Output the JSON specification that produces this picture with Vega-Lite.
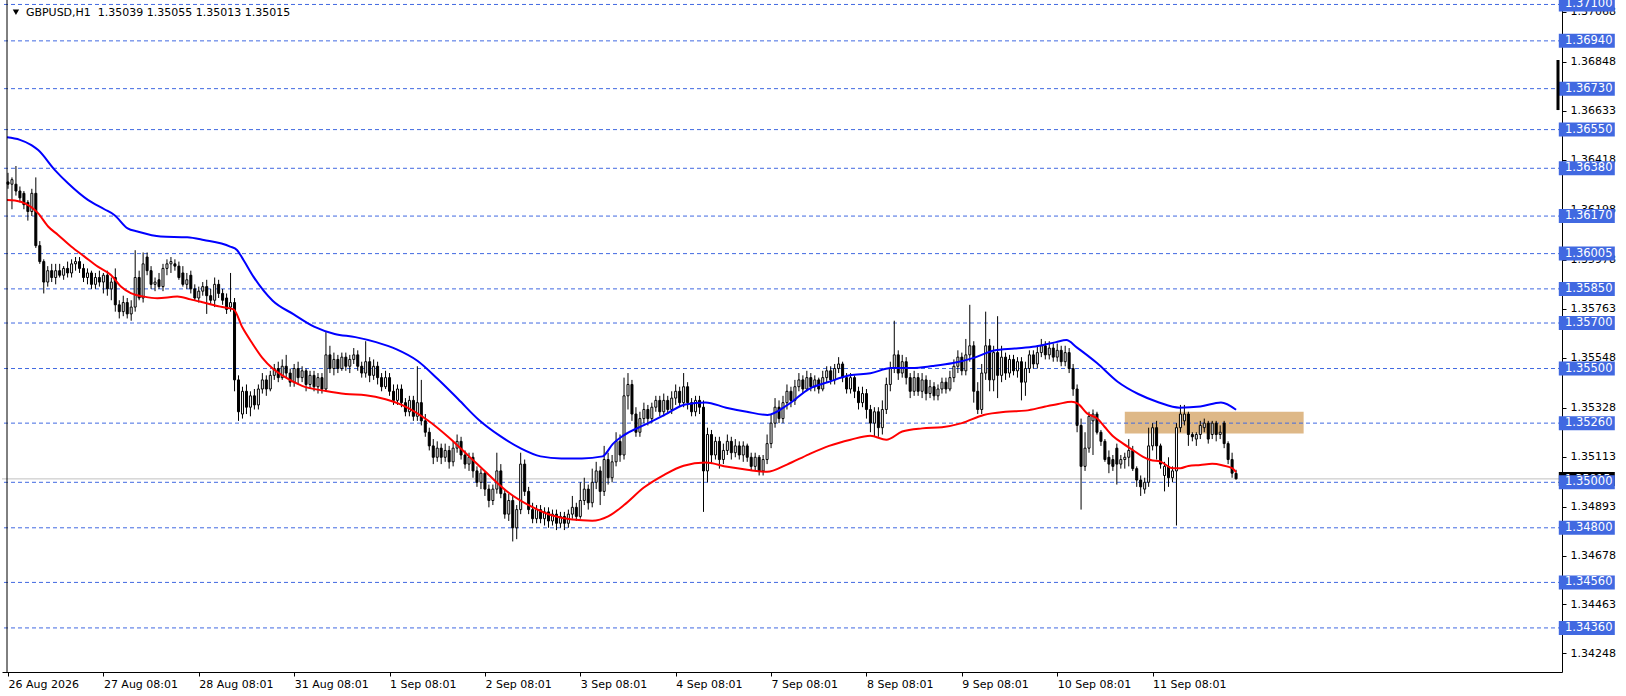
{
"$schema":"https://vega.github.io/schema/vega-lite/v6.json",
"width":1560,"height":672,
"autosize":{"type":"none"},
"padding":{"left":2,"top":0,"right":64,"bottom":24},
"background":"white",
"config":{"view":{"stroke":null},"font":"DejaVu Sans"},
"resolve":{"axis":{"x":"independent","y":"independent"}},
"datasets":{
"candles":[
{"i":0,"o":1.3632,"h":1.3636,"l":1.3629,"c":1.3631},
{"i":1,"o":1.3631,"h":1.3634,"l":1.3620,"c":1.3633},
{"i":2,"o":1.3631,"h":1.3639,"l":1.3626,"c":1.3628},
{"i":3,"o":1.3628,"h":1.3630,"l":1.3623,"c":1.3625},
{"i":4,"o":1.3627,"h":1.3628,"l":1.3620,"c":1.3622},
{"i":5,"o":1.3623,"h":1.3624,"l":1.3615,"c":1.3619},
{"i":6,"o":1.3619,"h":1.3629,"l":1.3617,"c":1.3627},
{"i":7,"o":1.3627,"h":1.3634,"l":1.3603,"c":1.3604},
{"i":8,"o":1.3604,"h":1.3606,"l":1.3596,"c":1.3597},
{"i":9,"o":1.3597,"h":1.3598,"l":1.3583,"c":1.3588},
{"i":10,"o":1.3588,"h":1.3595,"l":1.3586,"c":1.3593},
{"i":11,"o":1.3593,"h":1.3596,"l":1.3588,"c":1.3590},
{"i":12,"o":1.3590,"h":1.3596,"l":1.3587,"c":1.3593},
{"i":13,"o":1.3593,"h":1.3596,"l":1.3590,"c":1.3591},
{"i":14,"o":1.3591,"h":1.3595,"l":1.3589,"c":1.3594},
{"i":15,"o":1.3594,"h":1.3597,"l":1.3590,"c":1.3592},
{"i":16,"o":1.3592,"h":1.3598,"l":1.3590,"c":1.3596},
{"i":17,"o":1.3596,"h":1.3599,"l":1.3593,"c":1.3597},
{"i":18,"o":1.3597,"h":1.3599,"l":1.3592,"c":1.3594},
{"i":19,"o":1.3594,"h":1.3596,"l":1.3588,"c":1.3590},
{"i":20,"o":1.3590,"h":1.3594,"l":1.3587,"c":1.3592},
{"i":21,"o":1.3592,"h":1.3593,"l":1.3585,"c":1.3587},
{"i":22,"o":1.3587,"h":1.3592,"l":1.3585,"c":1.3590},
{"i":23,"o":1.3590,"h":1.3593,"l":1.3586,"c":1.3588},
{"i":24,"o":1.3588,"h":1.3592,"l":1.3583,"c":1.3591},
{"i":25,"o":1.3591,"h":1.3593,"l":1.3582,"c":1.3585},
{"i":26,"o":1.3585,"h":1.3590,"l":1.3580,"c":1.3588},
{"i":27,"o":1.3590,"h":1.3594,"l":1.3575,"c":1.3578},
{"i":28,"o":1.3578,"h":1.3580,"l":1.3572,"c":1.3575},
{"i":29,"o":1.3575,"h":1.3582,"l":1.3573,"c":1.3579},
{"i":30,"o":1.3579,"h":1.3581,"l":1.3572,"c":1.3574},
{"i":31,"o":1.3574,"h":1.3580,"l":1.3571,"c":1.3577},
{"i":32,"o":1.3577,"h":1.3602,"l":1.3575,"c":1.3590},
{"i":33,"o":1.3590,"h":1.3593,"l":1.3580,"c":1.3581},
{"i":34,"o":1.3581,"h":1.3601,"l":1.3579,"c":1.3596},
{"i":35,"o":1.3599,"h":1.3601,"l":1.3591,"c":1.3593},
{"i":36,"o":1.3593,"h":1.3595,"l":1.3585,"c":1.3587},
{"i":37,"o":1.3587,"h":1.3590,"l":1.3584,"c":1.3588},
{"i":38,"o":1.3589,"h":1.3592,"l":1.3585,"c":1.3586},
{"i":39,"o":1.3586,"h":1.3596,"l":1.3584,"c":1.3594},
{"i":40,"o":1.3594,"h":1.3598,"l":1.3591,"c":1.3596},
{"i":41,"o":1.3596,"h":1.3599,"l":1.3592,"c":1.3597},
{"i":42,"o":1.3596,"h":1.3598,"l":1.3593,"c":1.3595},
{"i":43,"o":1.3595,"h":1.3597,"l":1.3589,"c":1.3590},
{"i":44,"o":1.3592,"h":1.3595,"l":1.3586,"c":1.3587},
{"i":45,"o":1.3587,"h":1.3592,"l":1.3585,"c":1.3589},
{"i":46,"o":1.3591,"h":1.3593,"l":1.3583,"c":1.3585},
{"i":47,"o":1.3585,"h":1.3587,"l":1.3580,"c":1.3581},
{"i":48,"o":1.3581,"h":1.3586,"l":1.3579,"c":1.3584},
{"i":49,"o":1.3584,"h":1.3588,"l":1.3582,"c":1.3586},
{"i":50,"o":1.3586,"h":1.3589,"l":1.3574,"c":1.3582},
{"i":51,"o":1.3582,"h":1.3585,"l":1.3578,"c":1.3580},
{"i":52,"o":1.3580,"h":1.3590,"l":1.3577,"c":1.3587},
{"i":53,"o":1.3587,"h":1.3589,"l":1.3581,"c":1.3583},
{"i":54,"o":1.3583,"h":1.3585,"l":1.3578,"c":1.3580},
{"i":55,"o":1.3581,"h":1.3583,"l":1.3574,"c":1.3576},
{"i":56,"o":1.3577,"h":1.3592,"l":1.3575,"c":1.3579},
{"i":57,"o":1.3579,"h":1.3581,"l":1.3540,"c":1.3545},
{"i":58,"o":1.3545,"h":1.3547,"l":1.3527,"c":1.3531},
{"i":59,"o":1.3530,"h":1.3542,"l":1.3528,"c":1.3540},
{"i":60,"o":1.3540,"h":1.3543,"l":1.3530,"c":1.3533},
{"i":61,"o":1.3533,"h":1.3540,"l":1.3529,"c":1.3538},
{"i":62,"o":1.3538,"h":1.3541,"l":1.3532,"c":1.3534},
{"i":63,"o":1.3534,"h":1.3543,"l":1.3532,"c":1.3541},
{"i":64,"o":1.3541,"h":1.3548,"l":1.3539,"c":1.3545},
{"i":65,"o":1.3545,"h":1.3547,"l":1.3538,"c":1.3541},
{"i":66,"o":1.3541,"h":1.3549,"l":1.3540,"c":1.3547},
{"i":67,"o":1.3547,"h":1.3552,"l":1.3545,"c":1.3550},
{"i":68,"o":1.3550,"h":1.3553,"l":1.3544,"c":1.3546},
{"i":69,"o":1.3546,"h":1.3554,"l":1.3545,"c":1.3551},
{"i":70,"o":1.3551,"h":1.3556,"l":1.3546,"c":1.3548},
{"i":71,"o":1.3548,"h":1.3550,"l":1.3542,"c":1.3544},
{"i":72,"o":1.3544,"h":1.3552,"l":1.3542,"c":1.3550},
{"i":73,"o":1.3550,"h":1.3553,"l":1.3543,"c":1.3546},
{"i":74,"o":1.3546,"h":1.3551,"l":1.3544,"c":1.3549},
{"i":75,"o":1.3549,"h":1.3550,"l":1.3540,"c":1.3543},
{"i":76,"o":1.3543,"h":1.3549,"l":1.3541,"c":1.3547},
{"i":77,"o":1.3547,"h":1.3549,"l":1.3540,"c":1.3542},
{"i":78,"o":1.3542,"h":1.3548,"l":1.3539,"c":1.3546},
{"i":79,"o":1.3546,"h":1.3548,"l":1.3539,"c":1.3541},
{"i":80,"o":1.3541,"h":1.3566,"l":1.3540,"c":1.3556},
{"i":81,"o":1.3556,"h":1.3560,"l":1.3548,"c":1.3550},
{"i":82,"o":1.3550,"h":1.3557,"l":1.3547,"c":1.3554},
{"i":83,"o":1.3554,"h":1.3556,"l":1.3548,"c":1.3550},
{"i":84,"o":1.3550,"h":1.3557,"l":1.3549,"c":1.3555},
{"i":85,"o":1.3555,"h":1.3557,"l":1.3549,"c":1.3551},
{"i":86,"o":1.3551,"h":1.3556,"l":1.3548,"c":1.3554},
{"i":87,"o":1.3554,"h":1.3559,"l":1.3552,"c":1.3556},
{"i":88,"o":1.3556,"h":1.3558,"l":1.3549,"c":1.3551},
{"i":89,"o":1.3551,"h":1.3553,"l":1.3546,"c":1.3548},
{"i":90,"o":1.3548,"h":1.3562,"l":1.3546,"c":1.3553},
{"i":91,"o":1.3553,"h":1.3555,"l":1.3544,"c":1.3547},
{"i":92,"o":1.3547,"h":1.3554,"l":1.3545,"c":1.3551},
{"i":93,"o":1.3551,"h":1.3553,"l":1.3543,"c":1.3546},
{"i":94,"o":1.3546,"h":1.3548,"l":1.3540,"c":1.3542},
{"i":95,"o":1.3542,"h":1.3549,"l":1.3541,"c":1.3546},
{"i":96,"o":1.3546,"h":1.3548,"l":1.3538,"c":1.3540},
{"i":97,"o":1.3540,"h":1.3543,"l":1.3534,"c":1.3536},
{"i":98,"o":1.3536,"h":1.3543,"l":1.3534,"c":1.3541},
{"i":99,"o":1.3541,"h":1.3543,"l":1.3533,"c":1.3535},
{"i":100,"o":1.3535,"h":1.3537,"l":1.3529,"c":1.3531},
{"i":101,"o":1.3531,"h":1.3538,"l":1.3529,"c":1.3536},
{"i":102,"o":1.3536,"h":1.3538,"l":1.3527,"c":1.3529},
{"i":103,"o":1.3529,"h":1.3551,"l":1.3527,"c":1.3535},
{"i":104,"o":1.3535,"h":1.3545,"l":1.3525,"c":1.3527},
{"i":105,"o":1.3527,"h":1.3530,"l":1.3520,"c":1.3522},
{"i":106,"o":1.3522,"h":1.3524,"l":1.3514,"c":1.3516},
{"i":107,"o":1.3516,"h":1.3519,"l":1.3508,"c":1.3511},
{"i":108,"o":1.3511,"h":1.3518,"l":1.3509,"c":1.3515},
{"i":109,"o":1.3515,"h":1.3517,"l":1.3508,"c":1.3511},
{"i":110,"o":1.3511,"h":1.3517,"l":1.3509,"c":1.3514},
{"i":111,"o":1.3514,"h":1.3516,"l":1.3506,"c":1.3509},
{"i":112,"o":1.3509,"h":1.3518,"l":1.3507,"c":1.3515},
{"i":113,"o":1.3515,"h":1.3521,"l":1.3513,"c":1.3518},
{"i":114,"o":1.3518,"h":1.3520,"l":1.3510,"c":1.3512},
{"i":115,"o":1.3512,"h":1.3514,"l":1.3506,"c":1.3508},
{"i":116,"o":1.3508,"h":1.3513,"l":1.3505,"c":1.3511},
{"i":117,"o":1.3511,"h":1.3513,"l":1.3502,"c":1.3505},
{"i":118,"o":1.3505,"h":1.3507,"l":1.3498,"c":1.3500},
{"i":119,"o":1.3500,"h":1.3506,"l":1.3497,"c":1.3504},
{"i":120,"o":1.3504,"h":1.3505,"l":1.3494,"c":1.3497},
{"i":121,"o":1.3497,"h":1.3499,"l":1.3489,"c":1.3492},
{"i":122,"o":1.3492,"h":1.3499,"l":1.3490,"c":1.3497},
{"i":123,"o":1.3497,"h":1.3513,"l":1.3495,"c":1.3505},
{"i":124,"o":1.3505,"h":1.3508,"l":1.3493,"c":1.3495},
{"i":125,"o":1.3495,"h":1.3497,"l":1.3484,"c":1.3486},
{"i":126,"o":1.3486,"h":1.3495,"l":1.3483,"c":1.3492},
{"i":127,"o":1.3492,"h":1.3494,"l":1.3474,"c":1.3480},
{"i":128,"o":1.3480,"h":1.3490,"l":1.3475,"c":1.3488},
{"i":129,"o":1.3488,"h":1.3513,"l":1.3486,"c":1.3508},
{"i":130,"o":1.3508,"h":1.3510,"l":1.3494,"c":1.3496},
{"i":131,"o":1.3496,"h":1.3498,"l":1.3486,"c":1.3488},
{"i":132,"o":1.3488,"h":1.3491,"l":1.3482,"c":1.3484},
{"i":133,"o":1.3484,"h":1.3490,"l":1.3482,"c":1.3488},
{"i":134,"o":1.3488,"h":1.3490,"l":1.3482,"c":1.3484},
{"i":135,"o":1.3484,"h":1.3489,"l":1.3481,"c":1.3487},
{"i":136,"o":1.3487,"h":1.3489,"l":1.3480,"c":1.3483},
{"i":137,"o":1.3483,"h":1.3488,"l":1.3481,"c":1.3486},
{"i":138,"o":1.3486,"h":1.3488,"l":1.3479,"c":1.3482},
{"i":139,"o":1.3482,"h":1.3487,"l":1.3480,"c":1.3485},
{"i":140,"o":1.3485,"h":1.3487,"l":1.3479,"c":1.3482},
{"i":141,"o":1.3482,"h":1.3488,"l":1.3480,"c":1.3486},
{"i":142,"o":1.3486,"h":1.3494,"l":1.3484,"c":1.3489},
{"i":143,"o":1.3489,"h":1.3491,"l":1.3483,"c":1.3485},
{"i":144,"o":1.3485,"h":1.3500,"l":1.3484,"c":1.3492},
{"i":145,"o":1.3492,"h":1.3502,"l":1.3490,"c":1.3497},
{"i":146,"o":1.3497,"h":1.3499,"l":1.3488,"c":1.3491},
{"i":147,"o":1.3491,"h":1.3506,"l":1.3489,"c":1.3500},
{"i":148,"o":1.3500,"h":1.3509,"l":1.3497,"c":1.3505},
{"i":149,"o":1.3505,"h":1.3507,"l":1.3490,"c":1.3496},
{"i":150,"o":1.3496,"h":1.3516,"l":1.3494,"c":1.3510},
{"i":151,"o":1.3510,"h":1.3513,"l":1.3499,"c":1.3502},
{"i":152,"o":1.3502,"h":1.3512,"l":1.3500,"c":1.3509},
{"i":153,"o":1.3509,"h":1.3522,"l":1.3507,"c":1.3518},
{"i":154,"o":1.3518,"h":1.3521,"l":1.3509,"c":1.3512},
{"i":155,"o":1.3512,"h":1.3546,"l":1.3510,"c":1.3538},
{"i":156,"o":1.3538,"h":1.3548,"l":1.3532,"c":1.3543},
{"i":157,"o":1.3543,"h":1.3545,"l":1.3527,"c":1.3530},
{"i":158,"o":1.3530,"h":1.3533,"l":1.3520,"c":1.3522},
{"i":159,"o":1.3522,"h":1.3531,"l":1.3520,"c":1.3528},
{"i":160,"o":1.3528,"h":1.3535,"l":1.3526,"c":1.3532},
{"i":161,"o":1.3532,"h":1.3534,"l":1.3525,"c":1.3528},
{"i":162,"o":1.3528,"h":1.3535,"l":1.3526,"c":1.3533},
{"i":163,"o":1.3533,"h":1.3538,"l":1.3531,"c":1.3536},
{"i":164,"o":1.3536,"h":1.3538,"l":1.3529,"c":1.3531},
{"i":165,"o":1.3531,"h":1.3539,"l":1.3529,"c":1.3536},
{"i":166,"o":1.3536,"h":1.3538,"l":1.3530,"c":1.3532},
{"i":167,"o":1.3532,"h":1.3540,"l":1.3530,"c":1.3537},
{"i":168,"o":1.3537,"h":1.3543,"l":1.3534,"c":1.3540},
{"i":169,"o":1.3540,"h":1.3542,"l":1.3533,"c":1.3535},
{"i":170,"o":1.3535,"h":1.3548,"l":1.3533,"c":1.3542},
{"i":171,"o":1.3542,"h":1.3544,"l":1.3532,"c":1.3535},
{"i":172,"o":1.3535,"h":1.3537,"l":1.3529,"c":1.3531},
{"i":173,"o":1.3531,"h":1.3538,"l":1.3529,"c":1.3536},
{"i":174,"o":1.3536,"h":1.3538,"l":1.3530,"c":1.3533},
{"i":175,"o":1.3533,"h":1.3536,"l":1.3487,"c":1.3505},
{"i":176,"o":1.3505,"h":1.3524,"l":1.3500,"c":1.3521},
{"i":177,"o":1.3521,"h":1.3523,"l":1.3508,"c":1.3512},
{"i":178,"o":1.3512,"h":1.3520,"l":1.3510,"c":1.3518},
{"i":179,"o":1.3518,"h":1.3520,"l":1.3506,"c":1.3510},
{"i":180,"o":1.3510,"h":1.3517,"l":1.3508,"c":1.3514},
{"i":181,"o":1.3514,"h":1.3521,"l":1.3512,"c":1.3518},
{"i":182,"o":1.3518,"h":1.3520,"l":1.3510,"c":1.3513},
{"i":183,"o":1.3513,"h":1.3519,"l":1.3511,"c":1.3516},
{"i":184,"o":1.3516,"h":1.3518,"l":1.3510,"c":1.3512},
{"i":185,"o":1.3512,"h":1.3518,"l":1.3509,"c":1.3516},
{"i":186,"o":1.3516,"h":1.3517,"l":1.3509,"c":1.3511},
{"i":187,"o":1.3511,"h":1.3513,"l":1.3505,"c":1.3507},
{"i":188,"o":1.3507,"h":1.3513,"l":1.3505,"c":1.3511},
{"i":189,"o":1.3511,"h":1.3512,"l":1.3503,"c":1.3505},
{"i":190,"o":1.3505,"h":1.3512,"l":1.3503,"c":1.3510},
{"i":191,"o":1.3510,"h":1.3521,"l":1.3508,"c":1.3517},
{"i":192,"o":1.3517,"h":1.3530,"l":1.3515,"c":1.3526},
{"i":193,"o":1.3526,"h":1.3537,"l":1.3524,"c":1.3533},
{"i":194,"o":1.3533,"h":1.3536,"l":1.3526,"c":1.3528},
{"i":195,"o":1.3528,"h":1.3538,"l":1.3526,"c":1.3535},
{"i":196,"o":1.3535,"h":1.3543,"l":1.3532,"c":1.3540},
{"i":197,"o":1.3540,"h":1.3542,"l":1.3533,"c":1.3536},
{"i":198,"o":1.3536,"h":1.3545,"l":1.3534,"c":1.3542},
{"i":199,"o":1.3542,"h":1.3548,"l":1.3540,"c":1.3545},
{"i":200,"o":1.3545,"h":1.3547,"l":1.3539,"c":1.3541},
{"i":201,"o":1.3541,"h":1.3549,"l":1.3540,"c":1.3546},
{"i":202,"o":1.3546,"h":1.3548,"l":1.3540,"c":1.3542},
{"i":203,"o":1.3542,"h":1.3547,"l":1.3540,"c":1.3545},
{"i":204,"o":1.3545,"h":1.3546,"l":1.3539,"c":1.3541},
{"i":205,"o":1.3541,"h":1.3549,"l":1.3540,"c":1.3546},
{"i":206,"o":1.3546,"h":1.3551,"l":1.3544,"c":1.3549},
{"i":207,"o":1.3549,"h":1.3551,"l":1.3543,"c":1.3545},
{"i":208,"o":1.3545,"h":1.3552,"l":1.3543,"c":1.3550},
{"i":209,"o":1.3550,"h":1.3555,"l":1.3548,"c":1.3552},
{"i":210,"o":1.3552,"h":1.3553,"l":1.3544,"c":1.3546},
{"i":211,"o":1.3546,"h":1.3548,"l":1.3539,"c":1.3541},
{"i":212,"o":1.3541,"h":1.3548,"l":1.3539,"c":1.3546},
{"i":213,"o":1.3546,"h":1.3547,"l":1.3537,"c":1.3540},
{"i":214,"o":1.3540,"h":1.3542,"l":1.3532,"c":1.3535},
{"i":215,"o":1.3535,"h":1.3542,"l":1.3533,"c":1.3539},
{"i":216,"o":1.3539,"h":1.3541,"l":1.3528,"c":1.3532},
{"i":217,"o":1.3532,"h":1.3534,"l":1.3522,"c":1.3526},
{"i":218,"o":1.3526,"h":1.3533,"l":1.3520,"c":1.3531},
{"i":219,"o":1.3531,"h":1.3533,"l":1.3520,"c":1.3524},
{"i":220,"o":1.3524,"h":1.3536,"l":1.3521,"c":1.3532},
{"i":221,"o":1.3532,"h":1.3546,"l":1.3530,"c":1.3543},
{"i":222,"o":1.3543,"h":1.3553,"l":1.3540,"c":1.3550},
{"i":223,"o":1.3550,"h":1.3571,"l":1.3548,"c":1.3556},
{"i":224,"o":1.3556,"h":1.3558,"l":1.3545,"c":1.3548},
{"i":225,"o":1.3548,"h":1.3556,"l":1.3546,"c":1.3553},
{"i":226,"o":1.3553,"h":1.3555,"l":1.3543,"c":1.3546},
{"i":227,"o":1.3546,"h":1.3548,"l":1.3537,"c":1.3540},
{"i":228,"o":1.3540,"h":1.3549,"l":1.3538,"c":1.3546},
{"i":229,"o":1.3546,"h":1.3548,"l":1.3538,"c":1.3540},
{"i":230,"o":1.3540,"h":1.3548,"l":1.3537,"c":1.3545},
{"i":231,"o":1.3545,"h":1.3547,"l":1.3536,"c":1.3539},
{"i":232,"o":1.3539,"h":1.3545,"l":1.3537,"c":1.3542},
{"i":233,"o":1.3542,"h":1.3544,"l":1.3536,"c":1.3538},
{"i":234,"o":1.3538,"h":1.3543,"l":1.3536,"c":1.3541},
{"i":235,"o":1.3541,"h":1.3546,"l":1.3539,"c":1.3544},
{"i":236,"o":1.3544,"h":1.3546,"l":1.3539,"c":1.3541},
{"i":237,"o":1.3541,"h":1.3549,"l":1.3540,"c":1.3546},
{"i":238,"o":1.3546,"h":1.3554,"l":1.3544,"c":1.3551},
{"i":239,"o":1.3551,"h":1.3558,"l":1.3548,"c":1.3555},
{"i":240,"o":1.3555,"h":1.3557,"l":1.3547,"c":1.3549},
{"i":241,"o":1.3549,"h":1.3563,"l":1.3547,"c":1.3556},
{"i":242,"o":1.3556,"h":1.3578,"l":1.3553,"c":1.3560},
{"i":243,"o":1.3560,"h":1.3562,"l":1.3535,"c":1.3540},
{"i":244,"o":1.3540,"h":1.3544,"l":1.3530,"c":1.3532},
{"i":245,"o":1.3532,"h":1.3552,"l":1.3530,"c":1.3548},
{"i":246,"o":1.3548,"h":1.3575,"l":1.3545,"c":1.3560},
{"i":247,"o":1.3560,"h":1.3563,"l":1.3540,"c":1.3545},
{"i":248,"o":1.3545,"h":1.3560,"l":1.3540,"c":1.3557},
{"i":249,"o":1.3557,"h":1.3573,"l":1.3537,"c":1.3547},
{"i":250,"o":1.3547,"h":1.3560,"l":1.3544,"c":1.3555},
{"i":251,"o":1.3555,"h":1.3557,"l":1.3545,"c":1.3548},
{"i":252,"o":1.3548,"h":1.3556,"l":1.3546,"c":1.3554},
{"i":253,"o":1.3554,"h":1.3556,"l":1.3547,"c":1.3549},
{"i":254,"o":1.3549,"h":1.3555,"l":1.3546,"c":1.3553},
{"i":255,"o":1.3553,"h":1.3555,"l":1.3536,"c":1.3544},
{"i":256,"o":1.3544,"h":1.3553,"l":1.3538,"c":1.3550},
{"i":257,"o":1.3550,"h":1.3558,"l":1.3548,"c":1.3556},
{"i":258,"o":1.3556,"h":1.3558,"l":1.3550,"c":1.3552},
{"i":259,"o":1.3552,"h":1.3560,"l":1.3550,"c":1.3557},
{"i":260,"o":1.3557,"h":1.3563,"l":1.3555,"c":1.3560},
{"i":261,"o":1.3560,"h":1.3562,"l":1.3554,"c":1.3556},
{"i":262,"o":1.3556,"h":1.3562,"l":1.3554,"c":1.3559},
{"i":263,"o":1.3559,"h":1.3561,"l":1.3553,"c":1.3555},
{"i":264,"o":1.3555,"h":1.3561,"l":1.3553,"c":1.3558},
{"i":265,"o":1.3558,"h":1.3560,"l":1.3551,"c":1.3553},
{"i":266,"o":1.3553,"h":1.3560,"l":1.3551,"c":1.3557},
{"i":267,"o":1.3557,"h":1.3559,"l":1.3548,"c":1.3550},
{"i":268,"o":1.3550,"h":1.3552,"l":1.3538,"c":1.3541},
{"i":269,"o":1.3541,"h":1.3543,"l":1.3522,"c":1.3525},
{"i":270,"o":1.3525,"h":1.3528,"l":1.3488,"c":1.3507},
{"i":271,"o":1.3507,"h":1.3522,"l":1.3505,"c":1.3515},
{"i":272,"o":1.3515,"h":1.3531,"l":1.3513,"c":1.3529},
{"i":273,"o":1.3527,"h":1.3532,"l":1.3512,"c":1.3530},
{"i":274,"o":1.3530,"h":1.3531,"l":1.3521,"c":1.3522},
{"i":275,"o":1.3522,"h":1.3523,"l":1.3516,"c":1.3518},
{"i":276,"o":1.3518,"h":1.3519,"l":1.3509,"c":1.3510},
{"i":277,"o":1.3511,"h":1.3514,"l":1.3504,"c":1.3508},
{"i":278,"o":1.3510,"h":1.3512,"l":1.3505,"c":1.3507},
{"i":279,"o":1.3515,"h":1.3517,"l":1.3499,"c":1.3508},
{"i":280,"o":1.3508,"h":1.3512,"l":1.3506,"c":1.3510},
{"i":281,"o":1.3510,"h":1.3513,"l":1.3506,"c":1.3511},
{"i":282,"o":1.3511,"h":1.3519,"l":1.3507,"c":1.3514},
{"i":283,"o":1.3514,"h":1.3516,"l":1.3505,"c":1.3506},
{"i":284,"o":1.3506,"h":1.3507,"l":1.3498,"c":1.3501},
{"i":285,"o":1.3501,"h":1.3503,"l":1.3494,"c":1.3498},
{"i":286,"o":1.3497,"h":1.3502,"l":1.3495,"c":1.3500},
{"i":287,"o":1.3500,"h":1.3524,"l":1.3498,"c":1.3516},
{"i":288,"o":1.3516,"h":1.3526,"l":1.3514,"c":1.3524},
{"i":289,"o":1.3524,"h":1.3527,"l":1.3510,"c":1.3516},
{"i":290,"o":1.3516,"h":1.3517,"l":1.3506,"c":1.3508},
{"i":291,"o":1.3503,"h":1.3509,"l":1.3496,"c":1.3507},
{"i":292,"o":1.3507,"h":1.3511,"l":1.3498,"c":1.3502},
{"i":293,"o":1.3502,"h":1.3507,"l":1.3500,"c":1.3505},
{"i":294,"o":1.3505,"h":1.3526,"l":1.3481,"c":1.3524},
{"i":295,"o":1.3524,"h":1.3534,"l":1.3522,"c":1.3530},
{"i":296,"o":1.3527,"h":1.3534,"l":1.3525,"c":1.3530},
{"i":297,"o":1.3530,"h":1.3531,"l":1.3516,"c":1.3521},
{"i":298,"o":1.3521,"h":1.3522,"l":1.3518,"c":1.3520},
{"i":299,"o":1.3519,"h":1.3522,"l":1.3516,"c":1.3521},
{"i":300,"o":1.3521,"h":1.3527,"l":1.3519,"c":1.3525},
{"i":301,"o":1.3524,"h":1.3528,"l":1.3522,"c":1.3526},
{"i":302,"o":1.3526,"h":1.3527,"l":1.3517,"c":1.3519},
{"i":303,"o":1.3521,"h":1.3527,"l":1.3519,"c":1.3526},
{"i":304,"o":1.3526,"h":1.3527,"l":1.3518,"c":1.3521},
{"i":305,"o":1.3521,"h":1.3525,"l":1.3519,"c":1.3522},
{"i":306,"o":1.3526,"h":1.3527,"l":1.3515,"c":1.3517},
{"i":307,"o":1.3517,"h":1.3518,"l":1.3508,"c":1.3510},
{"i":308,"o":1.3510,"h":1.3513,"l":1.3502,"c":1.3504},
{"i":309,"o":1.35039,"h":1.35055,"l":1.35013,"c":1.35015}
],
"red":[
{"i":-0.25,"p":1.36241},{"i":1.75,"p":1.36238},{"i":4.25,"p":1.36226},{"i":6.75,"p":1.36197},{"i":7.6,"p":1.36182},{"i":10.1,"p":1.36124},{"i":12.6,"p":1.36087},{"i":15.9,"p":1.36036},{"i":19.25,"p":1.35992},{"i":22.6,"p":1.35948},{"i":25.9,"p":1.35911},{"i":28.4,"p":1.3586},{"i":30.9,"p":1.35831},{"i":34.25,"p":1.35816},{"i":37.6,"p":1.35809},{"i":42.6,"p":1.35816},{"i":45.9,"p":1.35804},{"i":49.25,"p":1.3579},{"i":53.4,"p":1.35772},{"i":56.75,"p":1.3576},{"i":59,"p":1.3568},{"i":61.5,"p":1.3561},{"i":64,"p":1.35547},{"i":66.6,"p":1.355},{"i":69,"p":1.3547},{"i":74,"p":1.35424},{"i":80,"p":1.35401},{"i":85,"p":1.35388},{"i":90,"p":1.35383},{"i":95,"p":1.35365},{"i":100,"p":1.35333},{"i":105.5,"p":1.35274},{"i":111,"p":1.35196},{"i":116,"p":1.35114},{"i":121,"p":1.35032},{"i":126,"p":1.34954},{"i":131.5,"p":1.34895},{"i":137,"p":1.34854},{"i":142,"p":1.34836},{"i":147,"p":1.34831},{"i":151,"p":1.3485},{"i":155,"p":1.349},{"i":160,"p":1.34977},{"i":165,"p":1.35032},{"i":170,"p":1.35073},{"i":175.5,"p":1.35087},{"i":181,"p":1.35068},{"i":186,"p":1.35055},{"i":191,"p":1.35046},{"i":196,"p":1.35078},{"i":201.5,"p":1.35123},{"i":206.6,"p":1.3516},{"i":212,"p":1.35187},{"i":217,"p":1.35205},{"i":221,"p":1.35187},{"i":225,"p":1.35223},{"i":230,"p":1.35237},{"i":235,"p":1.35242},{"i":240,"p":1.3526},{"i":245.5,"p":1.35296},{"i":251,"p":1.3531},{"i":256,"p":1.35315},{"i":261,"p":1.35333},{"i":264.25,"p":1.35344},{"i":267.6,"p":1.35354},{"i":269.25,"p":1.35345},{"i":271.5,"p":1.35303},{"i":274,"p":1.35281},{"i":275.9,"p":1.35244},{"i":278.2,"p":1.352},{"i":280.5,"p":1.35171},{"i":283,"p":1.35142},{"i":285.5,"p":1.35113},{"i":287.5,"p":1.35098},{"i":290,"p":1.35091},{"i":293,"p":1.35062},{"i":295,"p":1.35062},{"i":297,"p":1.35072},{"i":300,"p":1.35076},{"i":303,"p":1.35081},{"i":305.5,"p":1.35075},{"i":308,"p":1.35062},{"i":309,"p":1.35045}
],
"blue":[
{"i":-0.25,"p":1.36516},{"i":3,"p":1.36505},{"i":5.9,"p":1.36482},{"i":7.6,"p":1.3646},{"i":11.75,"p":1.36373},{"i":15.1,"p":1.36314},{"i":20.1,"p":1.36241},{"i":24.25,"p":1.362},{"i":26.75,"p":1.36175},{"i":30.1,"p":1.36116},{"i":32.6,"p":1.36102},{"i":38.4,"p":1.3608},{"i":45.1,"p":1.36077},{"i":49.25,"p":1.36065},{"i":55.9,"p":1.36036},{"i":57.6,"p":1.36021},{"i":59.25,"p":1.35977},{"i":61.75,"p":1.35904},{"i":66.6,"p":1.35798},{"i":71.8,"p":1.35739},{"i":77,"p":1.35684},{"i":82.2,"p":1.35652},{"i":87.4,"p":1.35638},{"i":92.6,"p":1.35616},{"i":97.8,"p":1.35584},{"i":103,"p":1.35534},{"i":108,"p":1.35456},{"i":113.3,"p":1.35365},{"i":118.5,"p":1.35274},{"i":123.7,"p":1.35205},{"i":128.9,"p":1.3515},{"i":134,"p":1.35114},{"i":139.2,"p":1.35105},{"i":144.4,"p":1.35105},{"i":149.6,"p":1.35114},{"i":152.2,"p":1.35169},{"i":154.8,"p":1.35205},{"i":160,"p":1.35251},{"i":165.2,"p":1.35296},{"i":170.4,"p":1.35342},{"i":175.5,"p":1.35351},{"i":180.7,"p":1.35328},{"i":185.9,"p":1.3531},{"i":191.1,"p":1.35296},{"i":196.3,"p":1.35342},{"i":201.5,"p":1.3541},{"i":206.6,"p":1.35442},{"i":211.8,"p":1.3547},{"i":217,"p":1.35479},{"i":222.2,"p":1.35502},{"i":227.4,"p":1.35502},{"i":232.6,"p":1.35511},{"i":237.8,"p":1.35524},{"i":243,"p":1.35547},{"i":248.1,"p":1.35579},{"i":253.3,"p":1.35588},{"i":258.5,"p":1.35597},{"i":263.7,"p":1.35616},{"i":266.3,"p":1.35625},{"i":268.9,"p":1.35593},{"i":274,"p":1.35524},{"i":279.2,"p":1.35442},{"i":284.4,"p":1.35388},{"i":289.6,"p":1.35351},{"i":294.8,"p":1.35328},{"i":300,"p":1.35333},{"i":305.2,"p":1.35351},{"i":309,"p":1.35319}
],
"levels":[
{"level":1.371},{"level":1.3694},{"level":1.3673},{"level":1.3655},{"level":1.3638},{"level":1.3617},{"level":1.36005},{"level":1.3585},{"level":1.357},{"level":1.355},{"level":1.3526},{"level":1.35},{"level":1.348},{"level":1.3456},{"level":1.3436}
],
"zone":[{"x1":281,"x2":326,"y1":1.3531,"y2":1.35214}],
"price":[{"p":1.35015}],
"one":[{"k":1}],
"title":[{"t":"GBPUSD,H1\u00a0\u00a01.35039 1.35055 1.35013 1.35015"}]
},
"layer":[
{"data":{"name":"zone"},"mark":{"type":"rect","color":"#DEB887","opacity":1},
 "encoding":{"x":{"field":"x1","type":"quantitative","scale":{"domain":[-0.25,389.75],"nice":false,"zero":false},"axis":null},"x2":{"field":"x2"},
 "y":{"field":"y1","type":"quantitative","scale":{"domain":[1.341663,1.371196],"nice":false,"zero":false},"axis":null},"y2":{"field":"y2"}}},
{"data":{"name":"levels"},"mark":{"type":"rule","color":"#4169E1","strokeDash":[4,3],"strokeWidth":1},
 "encoding":{"y":{"field":"level","type":"quantitative","scale":{"domain":[1.341663,1.371196],"nice":false,"zero":false},"axis":null}}},
{"data":{"name":"price"},"mark":{"type":"rule","color":"#C0C0C0","strokeWidth":1},
 "encoding":{"y":{"field":"p","type":"quantitative","scale":{"domain":[1.341663,1.371196],"nice":false,"zero":false},"axis":null}}},
{"data":{"name":"candles"},"mark":{"type":"rule","color":"black","strokeWidth":1},
 "encoding":{
  "x":{"field":"i","type":"quantitative","scale":{"domain":[-0.25,389.75],"nice":false,"zero":false},
   "axis":{"orient":"bottom","values":[0,24,48,72,96,120,144,168,192,216,240,264,288],
    "labelExpr":"['26 Aug 2026','27 Aug 08:01','28 Aug 08:01','31 Aug 08:01','1 Sep 08:01','2 Sep 08:01','3 Sep 08:01','4 Sep 08:01','7 Sep 08:01','8 Sep 08:01','9 Sep 08:01','10 Sep 08:01','11 Sep 08:01'][round(datum.value/24)]",
    "labelAlign":"left","labelBaseline":"top","labelFont":"DejaVu Sans","labelFontSize":11,"labelColor":"black","labelPadding":2,"labelFlush":false,"labelOverlap":false,"labelBound":false,
    "tickColor":"black","tickSize":4,"domainColor":"black","domainWidth":1,"grid":false,"title":null}},
  "y":{"field":"l","type":"quantitative","scale":{"domain":[1.341663,1.371196],"nice":false,"zero":false},
   "axis":{"orient":"right","values":[1.37068,1.36848,1.36633,1.36418,1.36198,1.35978,1.35763,1.35548,1.35328,1.35113,1.34893,1.34678,1.34463,1.34248],
    "format":".5f","labelFont":"DejaVu Sans","labelFontSize":11,"labelColor":"black","labelPadding":4,"labelFlush":false,"labelOverlap":false,"labelBound":false,
    "tickColor":"black","tickSize":4,"domainColor":"black","domainWidth":1,"grid":false,"title":null}},
  "y2":{"field":"h"}}},
{"data":{"name":"candles"},"mark":{"type":"bar","width":2,"stroke":"black","strokeWidth":1,"opacity":1},
 "encoding":{
  "x":{"field":"i","type":"quantitative","scale":{"domain":[-0.25,389.75],"nice":false,"zero":false},"axis":null},
  "y":{"field":"o","type":"quantitative","scale":{"domain":[1.341663,1.371196],"nice":false,"zero":false},"axis":null},
  "y2":{"field":"c"},
  "fill":{"condition":{"test":"datum.c >= datum.o","value":"white"},"value":"black"}}},
{"data":{"name":"red"},"mark":{"type":"line","color":"#FF0000","strokeWidth":2,"interpolate":"monotone"},
 "encoding":{"x":{"field":"i","type":"quantitative","scale":{"domain":[-0.25,389.75],"nice":false,"zero":false},"axis":null},
  "y":{"field":"p","type":"quantitative","scale":{"domain":[1.341663,1.371196],"nice":false,"zero":false},"axis":null}}},
{"data":{"name":"blue"},"mark":{"type":"line","color":"#0000FF","strokeWidth":2,"interpolate":"monotone"},
 "encoding":{"x":{"field":"i","type":"quantitative","scale":{"domain":[-0.25,389.75],"nice":false,"zero":false},"axis":null},
  "y":{"field":"p","type":"quantitative","scale":{"domain":[1.341663,1.371196],"nice":false,"zero":false},"axis":null}}},
{"data":{"name":"one"},"mark":{"type":"rule","color":"black","strokeWidth":1},
 "encoding":{"x":{"datum":-0.25,"type":"quantitative","scale":{"domain":[-0.25,389.75],"nice":false,"zero":false},"axis":null}}},
{"data":{"name":"price"},"mark":{"type":"tick","orient":"horizontal","size":56,"thickness":14,"color":"black","opacity":1},
 "encoding":{"x":{"datum":397.25,"type":"quantitative","scale":{"domain":[-0.25,389.75],"nice":false,"zero":false},"axis":null},
  "y":{"field":"p","type":"quantitative","scale":{"domain":[1.341663,1.371196],"nice":false,"zero":false},"axis":null}}},
{"data":{"name":"price"},"mark":{"type":"text","color":"white","align":"left","baseline":"middle","font":"DejaVu Sans","fontSize":11},
 "encoding":{"x":{"datum":391.75,"type":"quantitative","scale":{"domain":[-0.25,389.75],"nice":false,"zero":false},"axis":null},
  "y":{"field":"p","type":"quantitative","scale":{"domain":[1.341663,1.371196],"nice":false,"zero":false},"axis":null},
  "text":{"field":"p","type":"quantitative","format":".5f"}}},
{"data":{"name":"levels"},"mark":{"type":"tick","orient":"horizontal","size":56,"thickness":14,"color":"#4169E1","opacity":1},
 "encoding":{"x":{"datum":397.25,"type":"quantitative","scale":{"domain":[-0.25,389.75],"nice":false,"zero":false},"axis":null},
  "y":{"field":"level","type":"quantitative","scale":{"domain":[1.341663,1.371196],"nice":false,"zero":false},"axis":null}}},
{"data":{"name":"levels"},"mark":{"type":"text","color":"white","align":"left","baseline":"middle","font":"DejaVu Sans","fontSize":11.5},
 "encoding":{"x":{"datum":391.75,"type":"quantitative","scale":{"domain":[-0.25,389.75],"nice":false,"zero":false},"axis":null},
  "y":{"field":"level","type":"quantitative","scale":{"domain":[1.341663,1.371196],"nice":false,"zero":false},"axis":null},
  "text":{"field":"level","type":"quantitative","format":".5f"}}},
{"data":{"name":"one"},"mark":{"type":"rule","color":"black","strokeWidth":3},
 "encoding":{"x":{"datum":390,"type":"quantitative","scale":{"domain":[-0.25,389.75],"nice":false,"zero":false},"axis":null},
  "y":{"datum":1.36856,"type":"quantitative","scale":{"domain":[1.341663,1.371196],"nice":false,"zero":false},"axis":null},
  "y2":{"datum":1.36636}}},
{"data":{"name":"one"},"mark":{"type":"point","shape":"triangle-down","filled":true,"color":"black","size":40,"opacity":1},
 "encoding":{"x":{"datum":2,"type":"quantitative","scale":{"domain":[-0.25,389.75],"nice":false,"zero":false},"axis":null},
  "y":{"datum":1.37066,"type":"quantitative","scale":{"domain":[1.341663,1.371196],"nice":false,"zero":false},"axis":null}}},
{"data":{"name":"title"},"mark":{"type":"text","color":"black","align":"left","baseline":"middle","font":"DejaVu Sans","fontSize":11},
 "encoding":{"x":{"datum":4.5,"type":"quantitative","scale":{"domain":[-0.25,389.75],"nice":false,"zero":false},"axis":null},
  "y":{"datum":1.370625,"type":"quantitative","scale":{"domain":[1.341663,1.371196],"nice":false,"zero":false},"axis":null},
  "text":{"field":"t"}}}
]
}
